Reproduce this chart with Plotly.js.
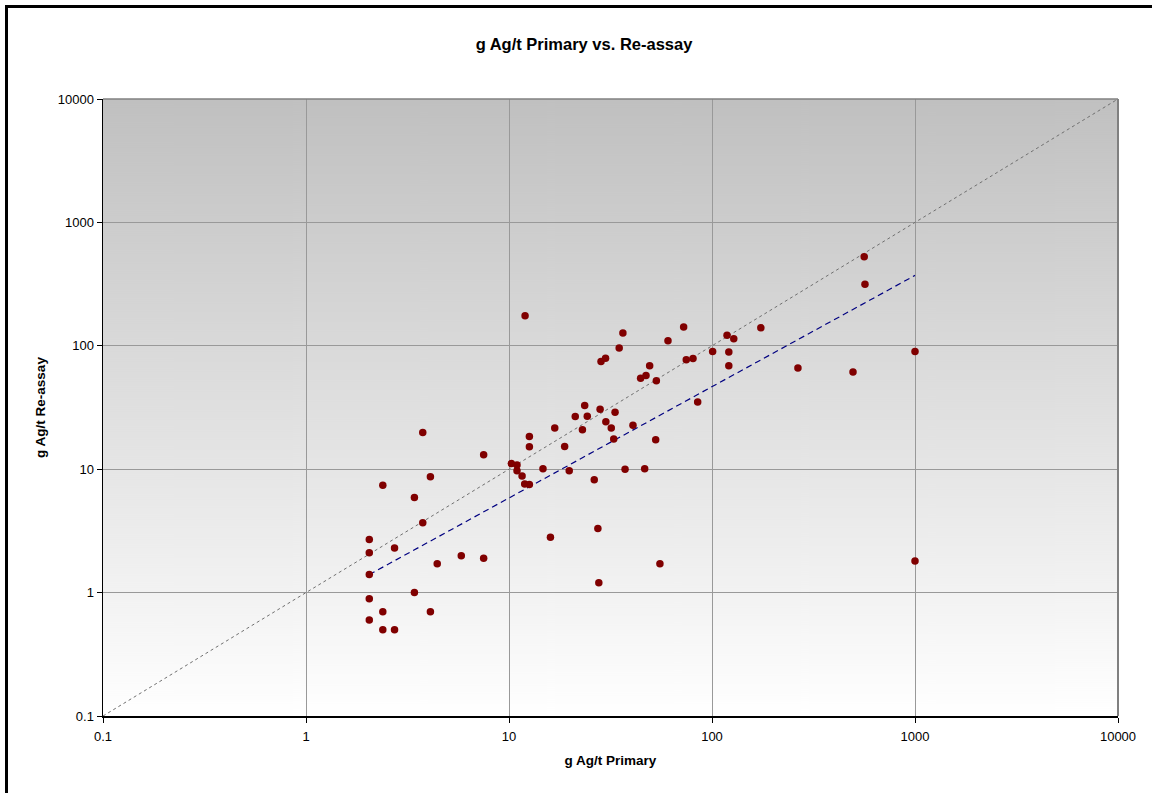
<!DOCTYPE html>
<html>
<head>
<meta charset="utf-8">
<script src="https://cdn.plot.ly/plotly-3.0.1.min.js"></script>
<style>
  html, body { margin: 0; padding: 0; background: #fff; }
  #chart { position: absolute; left: 0; top: 0; width: 1152px; height: 793px; }
  #frame { position: absolute; left: 5px; top: 5px; width: 1147px; height: 788px;
           border-left: 3px solid #000; border-top: 3px solid #000; box-sizing: border-box; pointer-events: none; }
</style>
</head>
<body>
<div id="chart"></div>
<div id="frame"></div>
<script>
// Primary assay (g Ag/t)
const primary = [
  12.0, 36.4, 72.5, 60.7, 34.9, 28.4, 29.9, 118.6, 128, 100.7,
  121, 121, 74.7, 80.6, 49.3, 47.3, 44.5, 53.2, 85, 23.6,
  28.1, 21.2, 24.3, 33.3, 16.8, 23.0, 30.0, 31.9, 40.8, 32.8,
  52.8, 12.6, 12.6, 18.8, 3.76, 7.5, 4.10, 2.39, 3.42, 10.27,
  10.95, 10.95, 11.6, 11.95, 12.6, 14.7, 19.8, 26.3, 37.3, 46.6,
  2.05, 2.05, 2.05, 2.05, 2.05, 2.39, 2.39, 2.73, 2.73, 3.76,
  3.42, 4.10, 4.43, 5.82, 7.5, 16.0, 27.4, 27.7, 55.4,
  562, 567, 174, 265, 495, 1000, 1000
];
// Re-assay (g Ag/t)
const reassay = [
  175, 127, 142, 110, 96, 74.5, 79.2, 122, 114, 90,
  89, 69, 77, 79, 69, 57.4, 54.5, 52.2, 35.1, 32.8,
  30.6, 26.7, 26.9, 28.9, 21.6, 20.9, 24.2, 21.6, 22.7, 17.6,
  17.3, 18.4, 15.2, 15.3, 19.8, 13.1, 8.7, 7.4, 5.9, 11.1,
  10.8, 9.7, 8.8, 7.6, 7.5, 10.1, 9.7, 8.2, 10.0, 10.1,
  2.69, 2.10, 1.40, 0.89, 0.60, 0.70, 0.50, 0.50, 2.30, 3.69,
  1.0, 0.70, 1.71, 1.99, 1.90, 2.81, 3.30, 1.20, 1.71,
  528, 315, 140, 66, 61.4, 90, 1.8
];
// 1:1 reference line
const parityX = [0.1, 10000];
const parityY = [0.1, 10000];
// Power trend line end points
const trendX = [2.05, 1000];
const trendY = [1.40, 372];
// Tick labels
const tickVals = [0.1, 1, 10, 100, 1000, 10000];
const tickText = ['0.1', '1', '10', '100', '1000', '10000'];

const titleText = 'g Ag/t Primary vs. Re-assay';
const xTitle = 'g Ag/t Primary';
const yTitle = 'g Ag/t Re-assay';

// vertical gray-to-white gradient for plot background
const cv = document.createElement('canvas');
cv.width = 8; cv.height = 617;
const ctx = cv.getContext('2d');
const g = ctx.createLinearGradient(0, 0, 0, 617);
g.addColorStop(0, '#c0c0c0');
g.addColorStop(1, '#ffffff');
ctx.fillStyle = g;
ctx.fillRect(0, 0, 8, 617);
const bgURL = cv.toDataURL('image/png');

const font = 'Liberation Sans, Arial, sans-serif';

const traces = [
  {
    x: parityX, y: parityY, type: 'scatter', mode: 'lines',
    line: { color: '#707070', width: 1, dash: 'dot' }, hoverinfo: 'skip', showlegend: false
  },
  {
    x: trendX, y: trendY, type: 'scatter', mode: 'lines',
    line: { color: '#000080', width: 1.2, dash: '6px,4px' }, hoverinfo: 'skip', showlegend: false
  },
  {
    x: primary, y: reassay, type: 'scatter', mode: 'markers',
    marker: { color: '#800000', size: 7.5, line: { width: 0 } }, showlegend: false
  }
];

const axisCommon = {
  type: 'log',
  tickvals: tickVals, ticktext: tickText,
  showgrid: true, gridcolor: '#999999', gridwidth: 1,
  zeroline: false,
  showline: true, linecolor: '#000000', linewidth: 1.5,
  ticks: 'outside', ticklen: 5, tickcolor: '#000000', tickwidth: 1,
  tickfont: { family: font, size: 13, color: '#000' }
};

const layout = {
  width: 1152, height: 793,
  margin: { l: 103, r: 34, t: 99, b: 77 },
  paper_bgcolor: '#ffffff',
  plot_bgcolor: 'rgba(0,0,0,0)',
  title: {
    text: '<b>' + titleText + '</b>',
    font: { family: font, size: 16.5, color: '#000' },
    x: 584 / 1152, xref: 'container', xanchor: 'center',
    y: 1 - 44 / 793, yref: 'container', yanchor: 'middle'
  },
  xaxis: Object.assign({}, axisCommon, {
    range: [-1, 4],
    ticklabelstandoff: 3,
    title: { text: '<b>' + xTitle + '</b>', font: { family: font, size: 13.5, color: '#000' }, standoff: 12 }
  }),
  yaxis: Object.assign({}, axisCommon, {
    range: [-1, 4],
    title: { text: '<b>' + yTitle + '</b>', font: { family: font, size: 13.5, color: '#000' }, standoff: 9 }
  }),
  images: [{
    source: bgURL, xref: 'paper', yref: 'paper', x: 0, y: 1, sizex: 1, sizey: 1,
    sizing: 'stretch', xanchor: 'left', yanchor: 'top', layer: 'below'
  }],
  shapes: [
    { type: 'line', xref: 'paper', yref: 'paper', x0: 0, x1: 1, y0: 1, y1: 1, line: { color: '#808080', width: 1.5 } },
    { type: 'line', xref: 'paper', yref: 'paper', x0: 1, x1: 1, y0: 0, y1: 1, line: { color: '#808080', width: 2 } }
  ]
};

Plotly.newPlot('chart', traces, layout, { staticPlot: true, displayModeBar: false });
</script>
</body>
</html>
